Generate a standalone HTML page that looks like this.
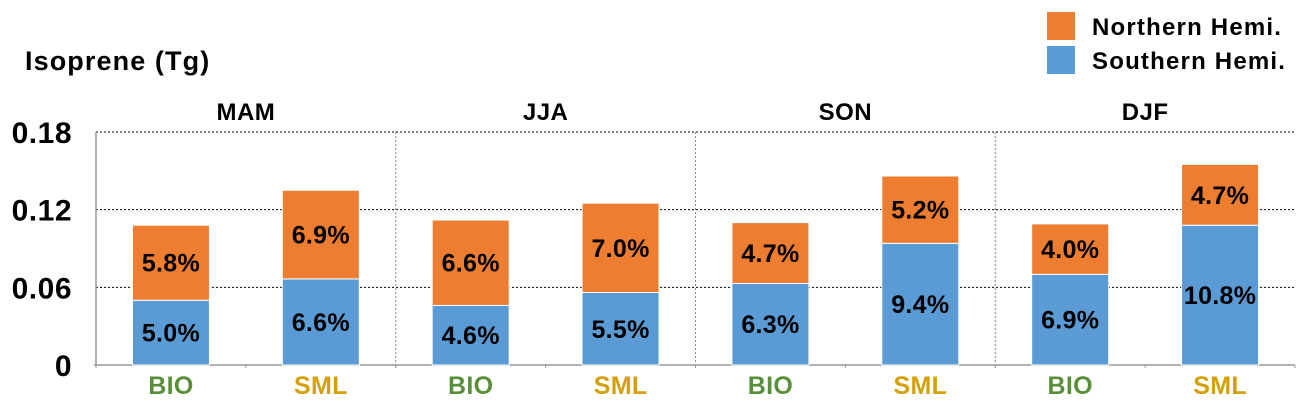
<!DOCTYPE html>
<html><head><meta charset="utf-8"><style>
body{margin:0;background:#fff;}
svg text{font-family:"Liberation Sans",Arial,sans-serif;font-weight:bold;}
</style></head><body>
<svg id="c" width="1309" height="406" xmlns="http://www.w3.org/2000/svg">
<text x="25" y="70" font-size="27" letter-spacing="1.1">Isoprene (Tg)</text>
<g>
<rect x="1047" y="12" width="28" height="28" fill="#ED7D31"/>
<text x="1092" y="35" font-size="24" letter-spacing="1.2">Northern Hemi.</text>
<rect x="1047" y="46" width="28" height="28" fill="#5B9BD5"/>
<text x="1092" y="69" font-size="24" letter-spacing="1.2">Southern Hemi.</text>
</g>
<g id="plot"></g>
</svg>
<script>
const seasons=["MAM","JJA","SON","DJF"];
const models=["BIO","SML"];
const southern=[0.050,0.0665,0.046,0.056,0.063,0.094,0.070,0.108];
const northern=[0.058,0.0685,0.066,0.069,0.047,0.052,0.039,0.047];
const southLabels=["5.0%","6.6%","4.6%","5.5%","6.3%","9.4%","6.9%","10.8%"];
const northLabels=["5.8%","6.9%","6.6%","7.0%","4.7%","5.2%","4.0%","4.7%"];
const yTicks=[0,0.06,0.12,0.18];
const yTickLabels=["0","0.06","0.12","0.18"];
const modelColors=["#5A8F3A","#D4A00B"];

const NS="http://www.w3.org/2000/svg";
const g=document.getElementById("plot");
const x0=96,x1=1295,y0=365,yTop=132,ymax=0.18;
const panelW=(x1-x0)/seasons.length;
const y=v=>y0-(v/ymax)*(y0-yTop);
function mk(tag,attrs,txt){const e=document.createElementNS(NS,tag);for(const k in attrs)e.setAttribute(k,attrs[k]);if(txt!==undefined)e.textContent=txt;g.appendChild(e);return e;}

yTicks.forEach((t,i)=>{
  if(t>0){const l=mk("line",{x1:x0,x2:x1,y1:y(t),y2:y(t),stroke:"#000","stroke-width":1,"stroke-dasharray":"2,2"});
  
  }
  const tx=mk("text",{x:72,y:y(t)+11,"font-size":30,"text-anchor":"end","letter-spacing":0.5},yTickLabels[i]);
  
  
});
for(let s=1;s<seasons.length;s++){
  const vl=mk("line",{x1:x0+s*panelW,x2:x0+s*panelW,y1:yTop,y2:y0,stroke:"#888","stroke-width":1,"stroke-dasharray":"2,2"});
  
  
}
const ax=mk("line",{x1:x0,x2:x0,y1:yTop,y2:y0,stroke:"#999","stroke-width":1.5});


const bx=mk("line",{x1:x0-2,x2:x1,y1:y0,y2:y0,stroke:"#999","stroke-width":1.5});



const bw=77;
seasons.forEach((sn,s)=>{
  const st=mk("text",{x:x0+s*panelW+panelW/2,y:120,"font-size":24,"text-anchor":"middle","letter-spacing":0.5},sn);
  
  
  for(let k=0;k<=2;k++){
    const tk=mk("line",{x1:x0+s*panelW+k*panelW/2,x2:x0+s*panelW+k*panelW/2,y1:y0,y2:y0+3,stroke:"#999"});
    
    
  }
  models.forEach((m,j)=>{
    const i=s*2+j;
    const cx=x0+s*panelW+panelW*(j===0?0.25:0.75);
    const sv=southern[i],nv=northern[i];
    const b1=mk("rect",{x:cx-bw/2,y:y(sv),width:bw,height:y0-y(sv),fill:"#5B9BD5",stroke:"#fff","stroke-width":1});
    
    
    const b2=mk("rect",{x:cx-bw/2,y:y(sv+nv),width:bw,height:y(sv)-y(sv+nv),fill:"#ED7D31",stroke:"#fff","stroke-width":1});
    
    
    const l1=mk("text",{x:cx,y:(y(sv)+y0)/2+9,"font-size":25,"text-anchor":"middle","letter-spacing":0.3},southLabels[i]);
    
    
    const l2=mk("text",{x:cx,y:(y(sv)+y(sv+nv))/2+9,"font-size":25,"text-anchor":"middle","letter-spacing":0.3},northLabels[i]);
    
    
    const cl=mk("text",{x:cx,y:394,"font-size":25,"text-anchor":"middle",fill:modelColors[j],"letter-spacing":0.3},m);
    
    
  });
});
</script>
</body></html>
